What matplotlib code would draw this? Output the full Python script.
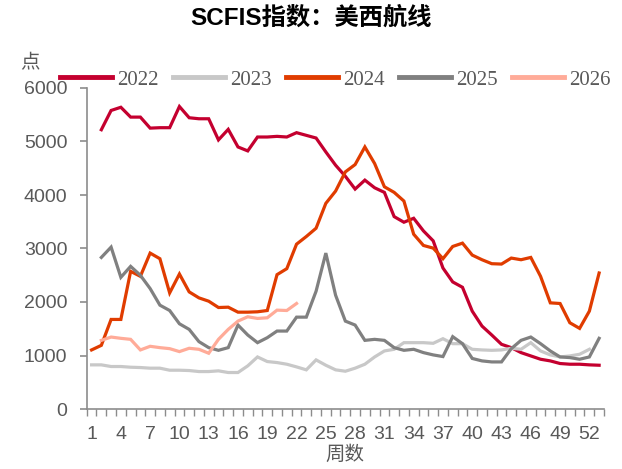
import matplotlib
matplotlib.use("Agg")
import matplotlib.pyplot as plt
import numpy as np

plt.rcParams['font.family'] = ['Liberation Sans', 'Noto Sans CJK SC', 'DejaVu Sans']

weeks_all = list(range(1, 54))
xtick_labels = [str(w) for w in range(1, 53, 3)]

weeks_2022 = list(range(2, 54))
v2022 = [5220, 5580, 5640, 5456, 5456, 5250, 5258, 5258, 5654, 5444,
         5425, 5425, 5030, 5227, 4898, 4824, 5084, 5084, 5096, 5084,
         5165, 5115, 5065, 4805, 4557, 4350, 4111, 4278, 4135, 4049,
         3596, 3491, 3565, 3329, 3143, 2635, 2375, 2275, 1829, 1550,
         1383, 1209, 1147, 1054, 992, 930, 899, 850, 837, 837,
         825, 818]

weeks_2023 = list(range(1, 53))
v2023 = [825, 825, 794, 794, 781, 775, 763, 763, 725, 725,
         719, 700, 700, 713, 682, 682, 806, 973, 887, 868,
         837, 787, 732, 918, 818, 732, 706, 763, 837, 973,
         1085, 1116, 1240, 1240, 1240, 1228, 1314, 1221, 1221, 1116,
         1104, 1097, 1104, 1135, 1116, 1240, 1085, 1011, 973, 992,
         1023, 1116]

weeks_2024 = list(range(1, 54))
v2024 = [1104, 1190, 1674, 1674, 2573, 2480, 2914, 2809, 2170, 2523,
         2189, 2077, 2015, 1897, 1903, 1810, 1810, 1817, 1841, 2511,
         2623, 3081, 3224, 3379, 3844, 4073, 4432, 4569, 4898, 4588,
         4154, 4049, 3887, 3267, 3057, 3007, 2809, 3038, 3100, 2877,
         2790, 2716, 2709, 2821, 2790, 2833, 2480, 1984, 1972, 1612,
         1507, 1829, 2542]

weeks_2025 = list(range(2, 54))
v2025 = [2833, 3026, 2461, 2666, 2499, 2251, 1941, 1841, 1593, 1488,
         1259, 1147, 1097, 1147, 1569, 1383, 1240, 1333, 1457, 1457,
         1717, 1717, 2201, 2914, 2127, 1643, 1569, 1283, 1302, 1283,
         1147, 1097, 1116, 1054, 1011, 980, 1352, 1221, 945, 899,
         880, 880, 1128, 1283, 1345, 1221, 1085, 973, 961, 930,
         973, 1321]

weeks_2026 = list(range(2, 23))
v2026 = [1283, 1345, 1321, 1302, 1104, 1172, 1147, 1128, 1073, 1135,
         1116, 1042, 1302, 1488, 1643, 1724, 1693, 1705, 1848, 1841,
         1972]

series = [
    ("2022", weeks_2022, v2022, "#C4002F"),
    ("2023", weeks_2023, v2023, "#C8C8C8"),
    ("2024", weeks_2024, v2024, "#E03C00"),
    ("2025", weeks_2025, v2025, "#808080"),
    ("2026", weeks_2026, v2026, "#FFAB98"),
]

fig = plt.figure(figsize=(6.22, 4.69), dpi=100)
ax = fig.add_axes([86.7 / 622, 1 - 409 / 469, (604 - 86.7) / 622, (409 - 88) / 469])

for name, wk, vals, col in series:
    ax.plot(wk, vals, color=col, lw=2.3, label=name, solid_joinstyle='miter')

ax.set_xlim(0.5, 53.5)
ax.set_ylim(0, 6000)
ax.set_yticks(range(0, 6001, 1000))
ax.set_xticks(range(1, 53, 3))
ax.set_xticklabels(xtick_labels)
ax.set_xticks(np.arange(0.5, 54, 1.0), minor=True)

spine_col = "#8C8C8C"
text_col = "#595959"
for s in ["top", "right"]:
    ax.spines[s].set_visible(False)
for s in ["left", "bottom"]:
    ax.spines[s].set_color(spine_col)
    ax.spines[s].set_linewidth(1.2)

ax.tick_params(axis='y', direction='out', length=5, width=1.2, color=spine_col,
               labelsize=14, labelcolor=text_col, pad=9)
ax.tick_params(axis='x', which='major', length=0, labelsize=14, labelcolor=text_col, pad=12)
ax.tick_params(axis='x', which='minor', direction='out', length=5, width=1.0, color=spine_col)

ax.set_xlabel("周数", fontsize=14, color=text_col, labelpad=1,
              family=['Noto Sans CJK SC', 'DejaVu Sans'])
fig.text(30 / 622, 1 - 63 / 469, "点", fontsize=14, color=text_col, ha='center', va='center',
         family=['Noto Sans CJK SC', 'DejaVu Sans'])

fig.suptitle("SCFIS指数：美西航线", x=0.5, y=1 - 18 / 469, va='center', fontsize=17.5,
             fontweight='bold', color='black',
             family=['Liberation Sans', 'Noto Sans CJK SC'])

leg = fig.legend(loc='center left', bbox_to_anchor=(60 / 622, 1 - 80 / 469), ncol=5,
                 frameon=False, handlelength=2.5, handletextpad=0.25, columnspacing=0.68,
                 borderpad=0, borderaxespad=0,
                 prop={'family': 'Liberation Serif', 'size': 15})
for t in leg.get_texts():
    t.set_color(text_col)
for h in leg.get_lines():
    h.set_linewidth(3.5)

fig.savefig("out.png", dpi=100)
